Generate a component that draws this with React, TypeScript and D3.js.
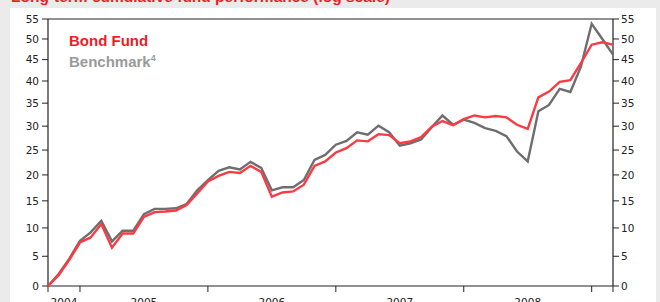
import React from "react";
import * as d3 from "d3";

const months: string[] = [
  "2004-10","2004-11","2004-12",
  "2005-01","2005-02","2005-03","2005-04","2005-05","2005-06","2005-07","2005-08","2005-09","2005-10","2005-11","2005-12",
  "2006-01","2006-02","2006-03","2006-04","2006-05","2006-06","2006-07","2006-08","2006-09","2006-10","2006-11","2006-12",
  "2007-01","2007-02","2007-03","2007-04","2007-05","2007-06","2007-07","2007-08","2007-09","2007-10","2007-11","2007-12",
  "2008-01","2008-02","2008-03","2008-04","2008-05","2008-06","2008-07","2008-08","2008-09","2008-10","2008-11","2008-12",
  "2009-01","2009-02","2009-03",
];

const bondFund: number[] = [
  0, 1.8, 4.4, 7.4, 8.3, 10.7, 6.5, 9.0, 9.0, 12.0, 12.9, 13.0, 13.2, 14.2, 16.4,
  18.7, 19.8, 20.6, 20.4, 21.8, 20.6, 15.8, 16.6, 16.8, 18.1, 21.8, 22.7,
  24.5, 25.4, 27.0, 26.8, 28.3, 28.1, 26.4, 26.8, 27.7, 29.9, 31.1, 30.2,
  31.5, 32.3, 31.9, 32.2, 31.9, 30.3, 29.4, 36.3, 37.6, 39.8, 40.2, 44.2,
  48.6, 49.2, 48.6,
];

const benchmark: number[] = [
  0, 2.0, 4.6, 7.7, 9.2, 11.3, 7.6, 9.5, 9.5, 12.5, 13.5, 13.5, 13.6, 14.4, 17.0,
  19.0, 20.8, 21.5, 21.1, 22.6, 21.4, 17.0, 17.6, 17.6, 19.0, 23.0, 24.0,
  26.1, 26.9, 28.7, 28.2, 30.1, 28.7, 25.9, 26.4, 27.2, 29.8, 32.3, 30.3,
  31.4, 30.7, 29.6, 29.0, 27.9, 24.7, 22.7, 33.2, 34.6, 38.2, 37.5, 43.4,
  53.8, 50.0, 46.2,
];

const yTicks: number[] = [0, 5, 10, 15, 20, 25, 30, 35, 40, 45, 50, 55];
const yearBoundaries: number[] = [2005, 2006, 2007, 2008, 2009];
const yearLabels: string[] = ["2004", "2005", "2006", "2007", "2008"];

const seriesNames: string[] = ["Bond Fund", "Benchmark"];
const titleText = "Long-term cumulative fund performance (log scale)";

const toYear = (m: string) => {
  const [y, mo] = m.split("-").map(Number);
  return y + (mo - 1) / 12;
};

export default function App() {
  const W = 660, H = 302;
  const left = 48, right = 613, top = 19, bottom = 286;
  const xs = months.map(toYear);
  const x = d3.scaleLinear().domain([xs[0], xs[xs.length - 1]]).range([left, right]);
  const y = d3.scaleLog().domain([100, 155]).range([bottom, top]);

  const line = d3
    .line<number>()
    .x((_, i) => x(xs[i]))
    .y((v) => y(100 + v));

  const redC = "#fb3a44";
  const grayC = "#6e6e6e";
  const axisC = "#222";
  const tickFont = "DejaVu Sans, Verdana, sans-serif";

  const yearEdges = [xs[0], ...yearBoundaries];

  return (
    <div style={{ position: "fixed", left: 0, top: 0, width: W, height: H }}>
      <svg width={W} height={H} style={{ display: "block" }}>
        <rect x={0} y={0} width={W} height={H} fill="#ebebeb" />
        <text x={11} y={2} fill="#ee1c25" fontFamily="Liberation Sans, Arial, sans-serif" fontWeight="bold" fontSize={15.5}>
          {titleText}
        </text>
        <rect x={10} y={8} width={646} height={H - 8} fill="#ffffff" />

        <line x1={left} x2={right} y1={top} y2={top} stroke={axisC} strokeWidth={1.2} />
        <line x1={left} x2={left} y1={top} y2={bottom} stroke={axisC} strokeWidth={1.2} />
        <line x1={right} x2={right} y1={top} y2={bottom} stroke={axisC} strokeWidth={1.2} />
        <line x1={left} x2={right} y1={bottom} y2={bottom} stroke={axisC} strokeWidth={1.2} />

        {yTicks.map((t) => (
          <g key={"yt" + t}>
            <line x1={left - 6} x2={left} y1={y(100 + t)} y2={y(100 + t)} stroke={axisC} strokeWidth={1} />
            <text x={left - 9} y={y(100 + t)} dy="0.36em" textAnchor="end" fontFamily={tickFont} fontSize={10.5} fill="#222">
              {t}
            </text>
            <line x1={right} x2={right + 6} y1={y(100 + t)} y2={y(100 + t)} stroke={axisC} strokeWidth={1} />
            <text x={right + 8} y={y(100 + t)} dy="0.36em" textAnchor="start" fontFamily={tickFont} fontSize={10.5} fill="#222">
              {t}
            </text>
          </g>
        ))}

        {[xs[0], ...yearBoundaries, xs[xs.length - 1]].map((t, i) => (
          <line key={"xt" + i} x1={x(t)} x2={x(t)} y1={bottom} y2={bottom + 6} stroke={axisC} strokeWidth={1} />
        ))}
        {yearLabels.map((lab, i) => (
          <text
            key={"xl" + lab}
            x={(x(yearEdges[i]) + x(yearEdges[i + 1])) / 2}
            y={306}
            textAnchor="middle"
            fontFamily={tickFont}
            fontSize={10.5}
            fill="#222"
          >
            {lab}
          </text>
        ))}

        <path d={line(benchmark) || ""} fill="none" stroke={grayC} strokeWidth={2.4} strokeLinejoin="miter" />
        <path d={line(bondFund) || ""} fill="none" stroke={redC} strokeWidth={2.4} strokeLinejoin="miter" />

        <text x={69} y={46} fill="#ee1c25" fontFamily="Liberation Sans, Arial, sans-serif" fontWeight="bold" fontSize={15}>
          {seriesNames[0]}
        </text>
        <text x={69} y={66.5} fill="#9a9a9a" fontFamily="Liberation Sans, Arial, sans-serif" fontWeight="bold" fontSize={15}>
          {seriesNames[1]}
          <tspan fontSize={9} dy={-6}>4</tspan>
        </text>
      </svg>
    </div>
  );
}
